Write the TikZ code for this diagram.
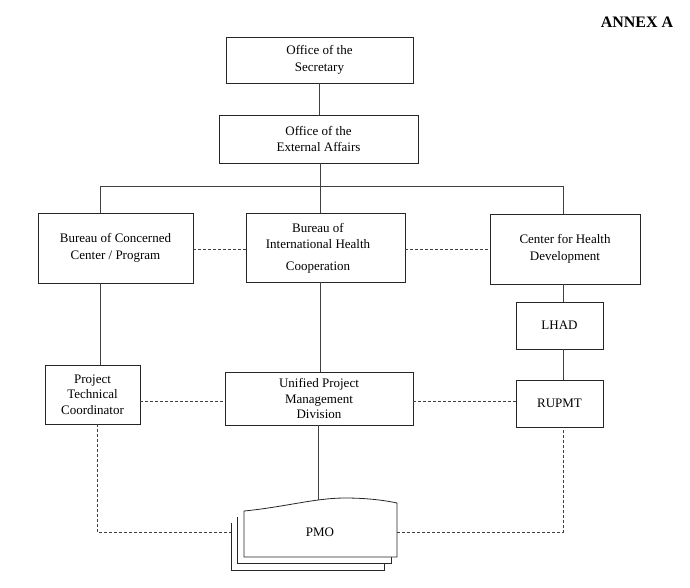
\documentclass[tikz,border=0pt]{standalone}
\usepackage{fontspec}
\setmainfont{Liberation Serif}
\begin{document}
\begin{tikzpicture}[x=1pt,y=-1pt,
  box/.style={draw=black!85, line width=0.8pt, inner sep=0pt, align=center, font=\fontsize{13}{16.5}\selectfont},
  tight/.style={font=\fontsize{13}{15.5}\selectfont},
  txt/.style={font=\fontsize{13}{16.5}\selectfont, align=center, inner sep=0pt},
  solidline/.style={draw=black!75, line width=0.8pt},
  dashline/.style={draw=black!75, line width=0.7pt, dash pattern=on 3pt off 2pt},
  page/.style={draw=black!85, line width=0.8pt, fill=white}]
\useasboundingbox (0,0) rectangle (690,587);
\node[font=\fontsize{16}{18}\selectfont\bfseries] (annex) at (637,22) {ANNEX A};
\node[box, minimum width=187pt, minimum height=46pt] (sec) at (319.5,60) {Office of the\\Secretary};
\node[box, minimum width=199pt, minimum height=48pt] (ext) at (318.5,139) {Office of the\\External Affairs};
\node[box, minimum width=155pt, minimum height=70pt] (bcc) at (115.5,248) {Bureau of Concerned\\Center / Program};
\node[box, minimum width=159pt, minimum height=69pt] (bih) at (325.5,247.5) {};
\node[txt] (bihtop) at (318,236) {Bureau of\\International Health};
\node[txt] (bihbot) at (318,268) {Cooperation};
\node[box, minimum width=150pt, minimum height=70pt] (chd) at (565,249) {Center for Health\\Development};
\node[box, tight, minimum width=95pt, minimum height=59pt] (ptc) at (92.5,394.5) {Project\\Technical\\Coordinator};
\node[box, tight, minimum width=188pt, minimum height=53pt] (upmd) at (319,398.5) {Unified Project\\Management\\Division};
\node[box, minimum width=87pt, minimum height=47pt] (lhad) at (559.5,325.5) {LHAD};
\node[box, minimum width=87pt, minimum height=47pt] (rupmt) at (559.5,403.5) {RUPMT};
% PMO stacked pages
\draw[page] (231,523) -- (231,570) -- (384,570) -- (384,520);
\draw[page] (237,517) -- (237,563) -- (391,563) -- (391,512);
\draw[page] (244,511) .. controls (285,507) and (315,498) .. (345,498) .. controls (370,498) and (388,501) .. (397,503) -- (397,557) -- (244,557) -- cycle;
\node[txt] (pmo) at (320,532) {PMO};
\coordinate (pmotop) at (318,500);
\coordinate (pmoleft) at (231,532);
\coordinate (pmoright) at (397,532);
% hierarchy
\coordinate (hl) at (100,186);
\coordinate (hr) at (563,186);
\draw[solidline] (sec.south) -- (sec.south |- ext.north);
\draw[solidline] (ext.south -| 320,0) -- (320,186);
\draw[solidline] (hl |- bcc.north) -- (hl) -- (hr) -- (hr |- chd.north);
\draw[solidline] (320,186) -- (320,213);
\draw[solidline] (100,283) -- (100,365);
\draw[solidline] (320,282) -- (320,372);
\draw[solidline] (563,284) -- (563,302);
\draw[solidline] (563,349) -- (563,380);
\draw[solidline] (318,425) -- (pmotop);
% dashed
\draw[dashline] (bcc.east |- 0,249) -- (bih.west |- 0,249);
\draw[dashline] (bih.east |- 0,249) -- (chd.west |- 0,249);
\draw[dashline] (ptc.east |- 0,401) -- (upmd.west |- 0,401);
\draw[dashline] (upmd.east |- 0,401) -- (rupmt.west |- 0,401);
\draw[dashline] (97,424) -- (97,532) -- (pmoleft);
\draw[dashline] (pmoright) -- (563,532) -- (563,427);
\end{tikzpicture}
\end{document}
